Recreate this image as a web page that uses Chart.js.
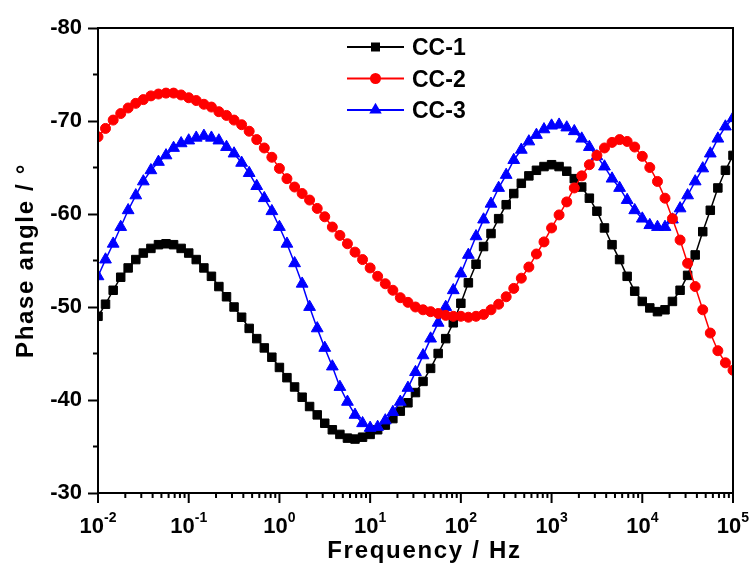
<!DOCTYPE html>
<html><head><meta charset="utf-8">
<script src="https://cdn.jsdelivr.net/npm/chart.js@4.4.1/dist/chart.umd.min.js"></script>
<style>html,body{margin:0;padding:0;background:#fff;}#wrap{width:753px;height:566px;}</style>
</head><body><div id="wrap"><canvas id="c" width="753" height="566"></canvas></div>
<script>
// Frequencies (Hz), 12 points per decade
const frequencies = [
  0.01,0.0121,0.0147,0.0178,0.0215,0.0261,0.0316,0.0383,0.0464,0.0562,0.0681,0.0825,
  0.1,0.121,0.147,0.178,0.215,0.261,0.316,0.383,0.464,0.562,0.681,0.825,
  1,1.21,1.47,1.78,2.15,2.61,3.16,3.83,4.64,5.62,6.81,8.25,
  10,12.1,14.7,17.8,21.5,26.1,31.6,38.3,46.4,56.2,68.1,82.5,
  100,121,147,178,215,261,316,383,464,562,681,825,
  1000,1210,1470,1780,2150,2610,3160,3830,4640,5620,6810,8250,
  10000,12100,14700,17800,21500,26100,31600,38300,46400,56200,68100,82500,
  100000];
const cc1 = [
  -49.0,-50.3,-51.8,-53.2,-54.2,-55.1,-55.8,-56.3,-56.7,-56.8,-56.7,-56.3,
  -55.8,-55.1,-54.2,-53.3,-52.2,-51.1,-50.0,-48.9,-47.7,-46.6,-45.6,-44.6,
  -43.5,-42.4,-41.4,-40.3,-39.3,-38.4,-37.5,-36.8,-36.3,-35.9,-35.8,-36.0,
  -36.3,-36.8,-37.3,-38.0,-38.8,-39.7,-40.8,-42.0,-43.4,-45.0,-46.6,-48.3,
  -50.4,-52.6,-54.6,-56.5,-57.9,-59.5,-61.0,-62.2,-63.3,-64.1,-64.7,-65.1,
  -65.3,-65.1,-64.6,-63.8,-62.9,-61.7,-60.3,-58.5,-56.7,-55.1,-53.3,-51.7,
  -50.6,-49.9,-49.5,-49.7,-50.6,-51.8,-53.4,-55.6,-58.1,-60.4,-62.8,-64.7,
  -66.3];
const cc2 = [
  -68.3,-69.2,-70.1,-70.8,-71.4,-71.9,-72.3,-72.7,-72.9,-73.0,-73.0,-72.8,
  -72.5,-72.2,-71.8,-71.5,-71.0,-70.6,-70.1,-69.6,-68.9,-68.0,-67.1,-66.1,
  -64.9,-63.8,-62.9,-62.2,-61.5,-60.6,-59.7,-58.6,-57.7,-56.8,-55.9,-55.1,
  -54.2,-53.3,-52.5,-51.8,-51.0,-50.5,-50.0,-49.7,-49.5,-49.3,-49.1,-49.0,
  -49.0,-48.9,-49.0,-49.2,-49.7,-50.3,-51.1,-52.0,-53.1,-54.3,-55.7,-57.0,
  -58.5,-59.9,-61.3,-62.8,-64.1,-65.3,-66.3,-67.1,-67.7,-68.0,-67.8,-67.2,
  -66.2,-65.0,-63.5,-61.7,-59.5,-57.2,-54.7,-52.2,-49.7,-47.2,-45.3,-44.0,
  -43.2];
const cc3 = [
  -53.3,-55.1,-56.8,-58.6,-60.4,-62.0,-63.5,-64.7,-65.6,-66.3,-67.1,-67.6,
  -67.9,-68.2,-68.4,-68.2,-67.9,-67.2,-66.5,-65.5,-64.4,-63.0,-61.7,-60.3,
  -58.6,-56.8,-54.7,-52.5,-50.0,-47.7,-45.6,-43.6,-41.4,-39.8,-38.4,-37.5,
  -37.0,-37.1,-37.8,-38.7,-39.8,-41.3,-43.0,-44.8,-46.6,-48.3,-50.0,-51.8,
  -53.6,-55.6,-57.6,-59.4,-61.1,-62.8,-64.2,-65.8,-66.9,-67.8,-68.5,-69.1,
  -69.5,-69.6,-69.3,-68.9,-68.1,-67.2,-66.2,-65.1,-63.8,-62.8,-61.5,-60.4,
  -59.5,-58.8,-58.6,-58.6,-59.4,-60.6,-62.0,-63.5,-64.9,-66.5,-68.1,-69.4,
  -70.3];
const seriesNames = ['CC-1','CC-2','CC-3'];
const yTicks = [-80,-70,-60,-50,-40,-30];
const xTickExponents = [-2,-1,0,1,2,3,4,5];
const xTitle = 'Frequency / Hz';
const yTitle = 'Phase angle / °';

const FONT = '"Liberation Sans", Arial, Helvetica, sans-serif';
const toXY = vals => vals.map((v,i)=>({x:frequencies[i], y:v}));

function drawMarker(ctx, style, cx, cy, color){
  ctx.fillStyle = color;
  ctx.beginPath();
  if (style==='rect'){ ctx.rect(cx-4.5, cy-4.5, 9, 9); }
  else if (style==='circle'){ ctx.arc(cx, cy, 5.5, 0, Math.PI*2); }
  else { const r=7.2; ctx.moveTo(cx, cy-r); ctx.lineTo(cx+r*0.866, cy+r*0.5); ctx.lineTo(cx-r*0.866, cy+r*0.5); ctx.closePath(); }
  ctx.fill();
}

const decorPlugin = {
  id:'decor',
  afterDraw(chart){
    const {ctx, chartArea:a} = chart;
    const x = chart.scales.x, y = chart.scales.y;
    ctx.save();
    ctx.strokeStyle='#000'; ctx.lineWidth=2;
    ctx.strokeRect(a.left, a.top, a.right-a.left, a.bottom-a.top);
    ctx.beginPath();
    for (let i=0;i<yTicks.length-1;i++){
      const py = y.getPixelForValue((yTicks[i]+yTicks[i+1])/2);
      ctx.moveTo(a.left-5, py); ctx.lineTo(a.left, py);
    }
    for (let k=0;k<xTickExponents.length;k++){
      const e = xTickExponents[k];
      const px = x.getPixelForValue(Math.pow(10,e));
      ctx.moveTo(px, a.bottom); ctx.lineTo(px, a.bottom+10);
      if (k < xTickExponents.length-1){
        for (let m=2;m<=9;m++){
          const pm = x.getPixelForValue(m*Math.pow(10,e));
          ctx.moveTo(pm, a.bottom); ctx.lineTo(pm, a.bottom+5);
        }
      }
    }
    ctx.stroke();
    // x tick labels with superscripts
    ctx.fillStyle='#000'; ctx.textAlign='left'; ctx.textBaseline='alphabetic';
    for (const e of xTickExponents){
      const px = x.getPixelForValue(Math.pow(10,e));
      const base='10', sup=String(e);
      ctx.font = 'bold 22px '+FONT; const wb = ctx.measureText(base).width;
      ctx.font = 'bold 14px '+FONT; const ws = ctx.measureText(sup).width;
      const start = px - (wb+ws)/2;
      ctx.font = 'bold 22px '+FONT; ctx.fillText(base, start, a.bottom+40);
      ctx.font = 'bold 14px '+FONT; ctx.fillText(sup, start+wb, a.bottom+29);
    }
    // axis titles
    ctx.font = 'bold 24px '+FONT;
    try { ctx.letterSpacing = '1.7px'; } catch(err){}
    ctx.textAlign='center';
    ctx.fillText(xTitle, (a.left+a.right)/2+9, a.bottom+65);
    ctx.save();
    ctx.translate(33, (a.top+a.bottom)/2);
    ctx.rotate(-Math.PI/2);
    ctx.fillText(yTitle, 0, 0);
    ctx.restore();
    try { ctx.letterSpacing = '0px'; } catch(err){}
    // legend
    const ds = chart.data.datasets;
    const rows = [47, 78.5, 110];
    for (let i=0;i<ds.length;i++){
      const cy = rows[i];
      ctx.strokeStyle = ds[i].borderColor; ctx.lineWidth = 2;
      ctx.beginPath(); ctx.moveTo(347, cy); ctx.lineTo(404, cy); ctx.stroke();
      drawMarker(ctx, ds[i].pointStyle, 375.5, cy, ds[i].borderColor);
      ctx.fillStyle='#000'; ctx.font='bold 23px '+FONT; ctx.textAlign='left'; ctx.textBaseline='alphabetic';
      ctx.fillText(ds[i].label, 412, cy+8.3);
    }
    ctx.restore();
  }
};

new Chart(document.getElementById('c'), {
  type:'line',
  data:{ datasets:[
    {label:seriesNames[0], data:toXY(cc1), borderColor:'#000000', backgroundColor:'#000000', pointStyle:'rect', pointRadius:6.0, pointBorderWidth:1, borderWidth:1.5, tension:0, order:2},
    {label:seriesNames[1], data:toXY(cc2), borderColor:'#ff0000', backgroundColor:'#ff0000', pointStyle:'circle', pointRadius:5.0, pointBorderWidth:1, borderWidth:1.5, tension:0, order:0},
    {label:seriesNames[2], data:toXY(cc3), borderColor:'#0000ff', backgroundColor:'#0000ff', pointStyle:'triangle', pointRadius:6.8, pointBorderWidth:1, borderWidth:1.5, tension:0, order:1}
  ]},
  options:{
    responsive:false, animation:false, devicePixelRatio:1, events:[],
    layout:{padding:{left:0, top:28, right:20, bottom:0}},
    plugins:{legend:{display:false}, tooltip:{enabled:false}},
    scales:{
      x:{type:'logarithmic', min:0.01, max:100000, grid:{display:false}, border:{display:false}, ticks:{display:false},
         afterFit(s){ s.height = 73; }},
      y:{type:'linear', min:-80, max:-30, reverse:true,
         afterBuildTicks(s){ s.ticks = yTicks.map(v=>({value:v})); },
         grid:{drawOnChartArea:false, drawTicks:true, tickLength:10, tickWidth:2, tickColor:'#000'},
         border:{display:false},
         ticks:{color:'#000', padding:6, font:{family:FONT, size:22, weight:'bold'}, callback:v=>String(v)},
         afterFit(s){ s.width = 98; }}
    }
  },
  plugins:[decorPlugin]
});
</script></body></html>
